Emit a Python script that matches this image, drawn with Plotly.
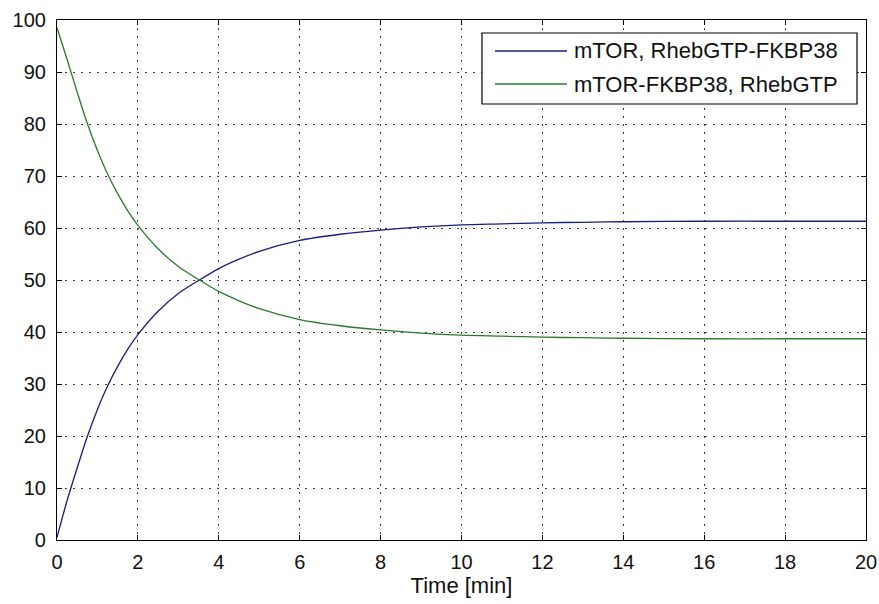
import plotly.graph_objects as go

# Simulated time course of the two complexes (percent of total)
time_min = [0, 0.25, 0.5, 0.75, 1.0, 1.25, 1.5, 1.75, 2.0, 2.5, 3.0, 3.5, 4.0,
            4.5, 5.0, 6.0, 7.0, 8.0, 9.0, 10.0, 11.0, 12.0, 13.0, 14.0, 16.0,
            18.0, 20.0]
mtor_rheb_fkbp = [0.5, 7.6, 13.9, 19.9, 25.1, 29.6, 33.4, 36.7, 39.5, 44.0, 47.4,
                  49.9, 52.2, 54.0, 55.5, 57.6, 58.8, 59.6, 60.2, 60.6, 60.8,
                  61.0, 61.1, 61.2, 61.3, 61.3, 61.3]
mtor_fkbp_rheb = [98.5, 92.4, 86.1, 80.1, 74.9, 70.4, 66.6, 63.3, 60.5, 56.0, 52.6,
                  50.1, 47.8, 46.0, 44.5, 42.4, 41.2, 40.4, 39.8, 39.4, 39.2,
                  39.0, 38.9, 38.8, 38.7, 38.7, 38.7]

series_names = ["mTOR, RhebGTP-FKBP38", "mTOR-FKBP38, RhebGTP"]
series_colors = ["#1c1c80", "#2b7a2b"]
x_ticks = list(range(0, 21, 2))
y_ticks = list(range(0, 101, 10))

FONT = "Liberation Sans, Arial, sans-serif"

fig = go.Figure()
for name, values, color in zip(series_names, [mtor_rheb_fkbp, mtor_fkbp_rheb], series_colors):
    fig.add_trace(go.Scatter(
        x=time_min, y=values, name=name, mode="lines",
        line=dict(color=color, width=1.3, shape="spline", smoothing=0.8),
        showlegend=False,
    ))

axis_common = dict(
    showline=True, linecolor="black", linewidth=1.2, mirror="ticks",
    ticks="inside", ticklen=5, tickwidth=1, tickcolor="black",
    showgrid=True, gridcolor="#3a3a3a", gridwidth=1, griddash="2px,6px",
    zeroline=False, tickfont=dict(family=FONT, size=20, color="#111111"),
)

fig.update_xaxes(range=[0, 20], tickvals=x_ticks, ticklabelstandoff=4,
                 title=dict(text="Time [min]", font=dict(family=FONT, size=22, color="#111111"),
                            standoff=4),
                 **axis_common)
fig.update_yaxes(range=[0, 100], tickvals=y_ticks, ticklabelstandoff=6, **axis_common)

# Boxed legend in the upper right corner of the axes
lx0, lx1, ly0, ly1 = 0.5253, 0.9889, 0.8385, 0.975
row_y = [0.9404, 0.8769]
fig.add_shape(type="rect", xref="paper", yref="paper", x0=lx0, x1=lx1, y0=ly0, y1=ly1,
              line=dict(color="black", width=1.2), fillcolor="white", layer="above")
for name, color, yy in zip(series_names, series_colors, row_y):
    fig.add_shape(type="line", xref="paper", yref="paper", x0=0.5414, x1=0.6304,
                  y0=yy, y1=yy, line=dict(color=color, width=1.3), layer="above")
    fig.add_annotation(xref="paper", yref="paper", x=0.6366, y=yy, text=name,
                       showarrow=False, xanchor="left", yanchor="middle",
                       font=dict(family=FONT, size=22, color="#111111"))

fig.update_layout(
    width=879, height=604,
    margin=dict(l=57, r=13, t=20, b=64, autoexpand=False),
    paper_bgcolor="white", plot_bgcolor="white",
)

fig.write_html("out.html")
